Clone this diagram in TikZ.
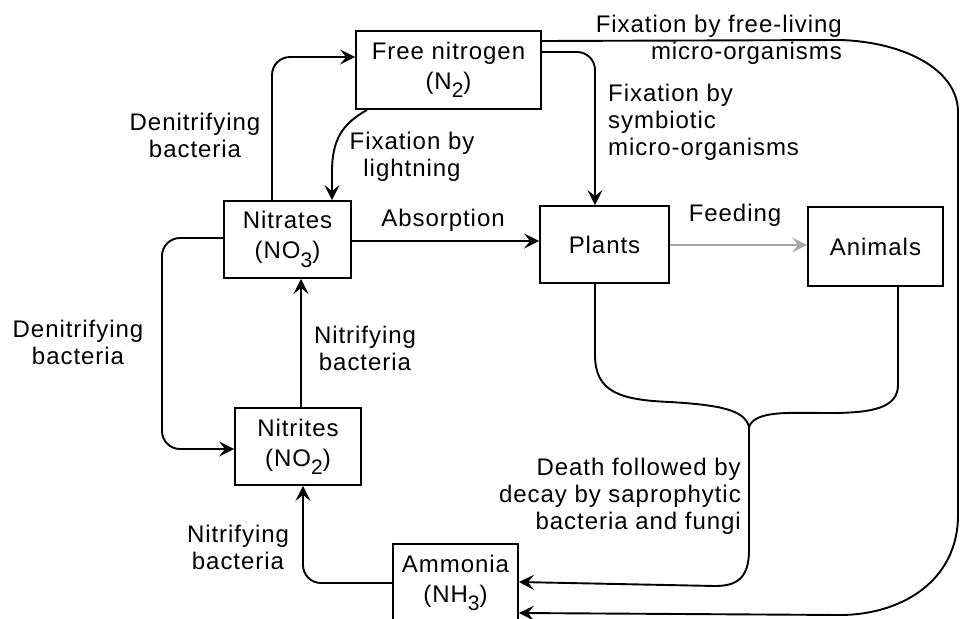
\documentclass[tikz,border=0pt]{standalone}
\usepackage{fontspec}
\setmainfont{Liberation Sans}[LetterSpace=4]
\usetikzlibrary{arrows.meta}
\newcommand\sbs[1]{\raisebox{-0.35em}{\fontsize{21}{21}\selectfont #1}}
\begin{document}
\begin{tikzpicture}[x=1pt,y=-1pt,
 box/.style={draw, line width=1.9pt, inner sep=0pt, align=center, font=\fontsize{24}{30}\selectfont},
 lbl/.style={inner sep=0pt, font=\fontsize{24}{27}\selectfont},
 con/.style={line width=1.9pt},
 rc/.style={rounded corners=18pt},
 arr/.style={-{Stealth[length=15pt,width=15pt,inset=6pt]}}]
\useasboundingbox (0,0) rectangle (962,619);
\clip (0,0) rectangle (962,619);
% boxes
\node[box, minimum width=185pt, minimum height=78pt] (fn) at (448.5,70) {Free nitrogen\\(N\sbs{2})};
\node[box, minimum width=127pt, minimum height=77pt] (nt) at (287.5,239.5) {Nitrates\\(NO\sbs{3})};
\node[box, minimum width=129pt, minimum height=77pt] (pl) at (604.5,244.5) {Plants};
\node[box, minimum width=135pt, minimum height=79pt] (an) at (875.5,246.5) {Animals};
\node[box, minimum width=126pt, minimum height=77pt] (ni) at (298,446.5) {Nitrites\\(NO\sbs{2})};
\node[box, minimum width=125pt, minimum height=78pt] (am) at (455.5,583) {Ammonia\\(NH\sbs{3})};
% connectors
\draw[con,rc,arr] (nt.north -| 272,0) |- (fn.west |- 0,57);
\draw[con,arr] (fn.south -| 367,0) .. controls (342,124) and (332,140) .. (332,172) -- (nt.north -| 332,0);
\draw[con,rc,arr] (fn.east |- 0,52) -| (pl.north -| 595,0);
\draw[con,arr] (fn.east |- 0,41) -- (840,40) .. controls (905,42) and (958,70) .. (958,112) -- (958,515) .. controls (958,582) and (900,615) .. (840,615) -- (am.east |- 0,613);
\draw[con,arr] (nt.east |- 0,241) -- (pl.west |- 0,241);
\draw[con,arr,gray!70] (pl.east |- 0,245) -- (an.west |- 0,245);
\coordinate (J) at (749,427);
\draw[con] (pl.south -| 595,0) -- (595,355) .. controls (595,392) and (620,400) .. (670,402) .. controls (720,405) and (745,410) .. (J);
\draw[con] (an.south -| 898,0) -- (898,385) .. controls (898,408) and (872,413) .. (830,413) .. controls (790,413) and (755,410) .. (J);
\draw[con,arr] (J) -- (749,550) .. controls (749,578) and (737,586) .. (715,586) -- (am.east |- 0,582);
\draw[con,rc,arr] (nt.west |- 0,238) -- (162,238) -- (162,449) -- (ni.west |- 0,449);
\draw[con,arr] (ni.north -| 301,0) -- (nt.south -| 301,0);
\draw[con,rc,arr] (am.west |- 0,583) -| (ni.south -| 303,0);
% labels
\node[lbl, align=right, anchor=east] (l1) at (842,40) {Fixation by free-living\\micro-organisms};
\node[lbl, align=left, anchor=west] (l2) at (608,122) {Fixation by\\symbiotic\\micro-organisms};
\node[lbl, align=center] (l3) at (412,157) {Fixation by\\lightning};
\node[lbl, align=center] (l4) at (195,135) {Denitrifying\\bacteria};
\node[lbl] (l5) at (443,220) {Absorption};
\node[lbl] (l6) at (735,215) {Feeding};
\node[lbl, align=center] (l7) at (78,342) {Denitrifying\\bacteria};
\node[lbl, align=center] (l8) at (365,348) {Nitrifying\\bacteria};
\node[lbl, align=center] (l9) at (238,547) {Nitrifying\\bacteria};
\node[lbl, align=right, anchor=east] (l10) at (741,496) {Death followed by\\decay by saprophytic\\bacteria and fungi};
\end{tikzpicture}
\end{document}
